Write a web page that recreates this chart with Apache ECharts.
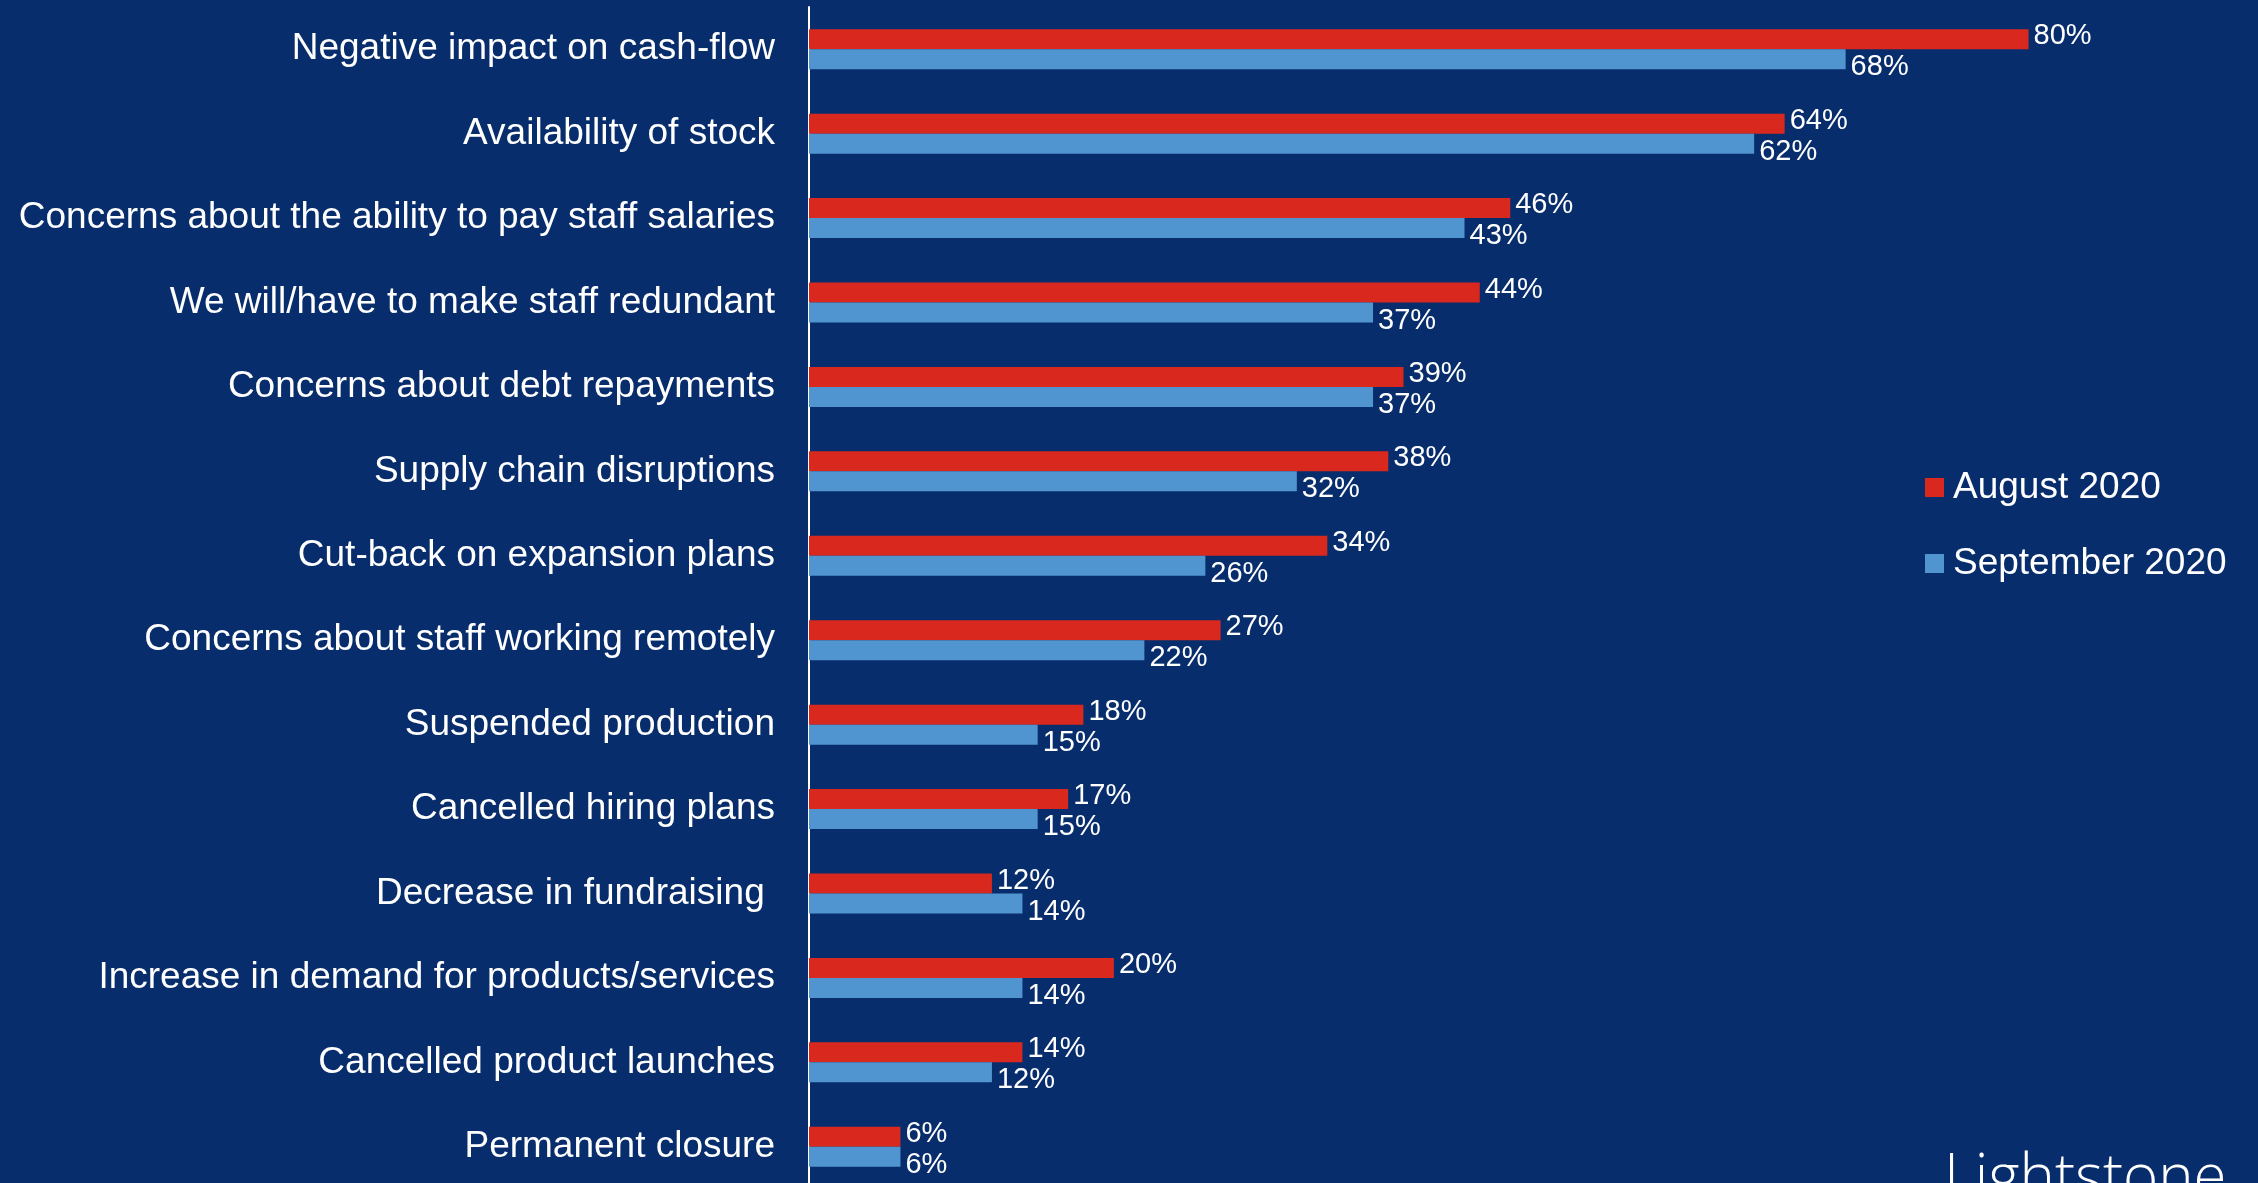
<!DOCTYPE html>
<html>
<head>
<meta charset="utf-8">
<script src="https://cdn.jsdelivr.net/npm/echarts@6/dist/echarts.min.js"></script>
<style>
  html, body { margin: 0; padding: 0; background: #082D6C; overflow: hidden; }
  /* canvas runs slightly past the bottom edge so the last row is cut like a slide */
  #chart { width: 2258px; height: 1190px; }
</style>
</head>
<body>
<div id="chart"></div>
<script>
// Business impacts, share of respondents (%), listed top to bottom
const categories = [
  'Negative impact on cash-flow',
  'Availability of stock',
  'Concerns about the ability to pay staff salaries',
  'We will/have to make staff redundant',
  'Concerns about debt repayments',
  'Supply chain disruptions',
  'Cut-back on expansion plans',
  'Concerns about staff working remotely',
  'Suspended production',
  'Cancelled hiring plans',
  'Decrease in fundraising ',
  'Increase in demand for products/services',
  'Cancelled product launches',
  'Permanent closure'
];
const august2020 = [80, 64, 46, 44, 39, 38, 34, 27, 18, 17, 12, 20, 14, 6];
const september2020 = [68, 62, 43, 37, 37, 32, 26, 22, 15, 15, 14, 14, 12, 6];
const seriesNames = ['August 2020', 'September 2020'];

const FONT = '"Liberation Sans", Arial, sans-serif';
const chart = echarts.init(document.getElementById('chart'));

const valueLabel = (dy) => ({
  show: true,
  position: 'right',
  distance: 5,
  offset: [0, dy],
  formatter: '{c}%',
  color: '#ffffff',
  fontSize: 29,
  fontFamily: FONT
});

chart.setOption({
  backgroundColor: '#082D6C',
  animation: false,
  grid: { left: 809, top: 7, width: 1372, height: 1182, containLabel: false },
  legend: {
    orient: 'vertical',
    left: 1920,
    top: 464,
    itemWidth: 19,
    itemHeight: 19,
    itemGap: 39,
    icon: 'rect',
    textStyle: { color: '#ffffff', fontSize: 37, fontFamily: FONT, padding: [0, 0, 0, 4] },
    data: seriesNames
  },
  xAxis: {
    type: 'value',
    min: 0,
    max: 90,
    show: false
  },
  yAxis: {
    type: 'category',
    inverse: true,
    data: categories,
    axisLine: { show: true, lineStyle: { color: '#ffffff', width: 2 } },
    axisTick: { show: false },
    axisLabel: { color: '#ffffff', fontSize: 37, fontFamily: FONT, margin: 34 }
  },
  series: [
    {
      name: seriesNames[0],
      type: 'bar',
      data: august2020,
      barWidth: 20,
      barGap: '0%',
      itemStyle: { color: '#D9281E' },
      label: valueLabel(-3)
    },
    {
      name: seriesNames[1],
      type: 'bar',
      data: september2020,
      barWidth: 20,
      barGap: '0%',
      itemStyle: { color: '#5095D0' },
      label: valueLabel(8)
    }
  ],
  graphic: [
    {
      type: 'text',
      left: 1944,
      top: 1150,
      style: {
        text: 'Lightstone',
        fill: '#ffffff',
        font: '300 60px "Open Sans", Lato, sans-serif'
      }
    }
  ]
});
</script>
</body>
</html>
